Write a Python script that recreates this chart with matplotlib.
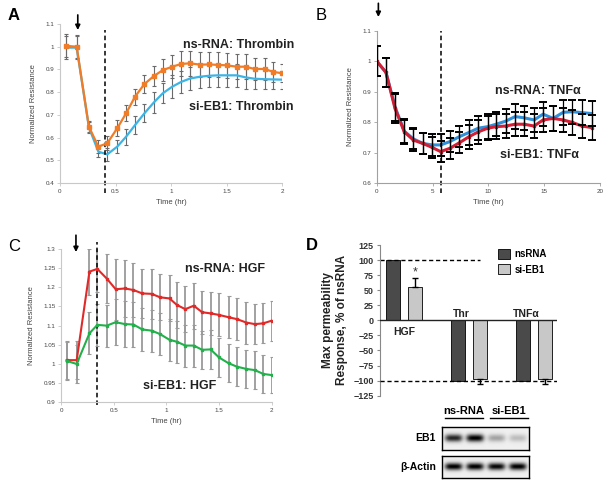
import numpy as np
import matplotlib.pyplot as plt
from matplotlib.patches import Patch

plt.rcParams['font.family'] = ['Liberation Sans', 'DejaVu Sans']

W, H = 613, 486

# ---- panel A: thrombin ----
a_time = [0.05, 0.15, 0.26, 0.345, 0.425, 0.515, 0.595, 0.675, 0.76, 0.845, 0.925, 1.01,
          1.09, 1.17, 1.26, 1.34, 1.42, 1.5, 1.59, 1.67, 1.75, 1.84, 1.92, 2.0]
a_ns = [1.004, 1.0, 0.648, 0.56, 0.575, 0.641, 0.707, 0.78, 0.836, 0.871, 0.897, 0.912,
        0.924, 0.927, 0.921, 0.922, 0.92, 0.918, 0.912, 0.912, 0.902, 0.902, 0.889, 0.883]
a_ns_err = [0.05, 0.05, 0.025, 0.03, 0.03, 0.035, 0.035, 0.035, 0.04, 0.045, 0.05, 0.05,
            0.055, 0.055, 0.055, 0.055, 0.055, 0.055, 0.055, 0.055, 0.05, 0.05, 0.045, 0.04]
a_si = [0.996, 0.996, 0.645, 0.538, 0.526, 0.56, 0.604, 0.655, 0.707, 0.755, 0.795, 0.824,
        0.845, 0.86, 0.868, 0.872, 0.874, 0.874, 0.874, 0.865, 0.859, 0.857, 0.856, 0.855]
a_si_err = [0.05, 0.05, 0.025, 0.025, 0.03, 0.03, 0.035, 0.04, 0.04, 0.045, 0.045, 0.05,
            0.05, 0.05, 0.05, 0.05, 0.05, 0.05, 0.05, 0.05, 0.045, 0.045, 0.04, 0.04]

# ---- panel B: TNFa ----
b_time = [0, 0.83, 1.64, 2.47, 3.28, 4.12, 4.95, 5.73, 6.56, 7.4, 8.27, 9.1,
          9.95, 10.7, 11.55, 12.4, 13.2, 14.1, 14.9, 15.8, 16.7, 17.5, 18.4, 19.25]
b_ns = [1.0, 0.963, 0.85, 0.77, 0.745, 0.73, 0.725, 0.725, 0.736, 0.752, 0.766, 0.78,
        0.785, 0.793, 0.803, 0.818, 0.814, 0.807, 0.826, 0.812, 0.832, 0.834, 0.831, 0.828]
b_si = [1.0, 0.963, 0.845, 0.768, 0.741, 0.73, 0.717, 0.703, 0.714, 0.732, 0.752, 0.768,
        0.78, 0.785, 0.787, 0.793, 0.793, 0.787, 0.807, 0.812, 0.807, 0.799, 0.787, 0.782]
b_err = [0.05, 0.047, 0.047, 0.04, 0.035, 0.035, 0.035, 0.035, 0.035, 0.035, 0.04, 0.04,
         0.04, 0.04, 0.04, 0.04, 0.04, 0.04, 0.04, 0.04, 0.04, 0.04, 0.04, 0.04]

# ---- panel C: HGF ----
c_time = [0.054, 0.149, 0.27, 0.345, 0.434, 0.519, 0.607, 0.687, 0.772, 0.86, 0.94, 1.03,
          1.1, 1.18, 1.26, 1.34, 1.42, 1.5, 1.59, 1.67, 1.76, 1.84, 1.92, 2.0]
c_ns = [1.01, 1.01, 1.241, 1.248, 1.223, 1.195, 1.197, 1.193, 1.184, 1.183, 1.174, 1.171,
        1.154, 1.143, 1.152, 1.135, 1.132, 1.128, 1.122, 1.117, 1.108, 1.104, 1.106, 1.113]
c_ns_err = [0.05, 0.05, 0.06, 0.06, 0.065, 0.08, 0.075, 0.07, 0.065, 0.065, 0.06, 0.06,
            0.06, 0.06, 0.06, 0.056, 0.056, 0.056, 0.055, 0.055, 0.055, 0.052, 0.052, 0.052]
c_si = [1.008, 1.0, 1.08, 1.102, 1.1, 1.109, 1.104, 1.103, 1.09, 1.087, 1.078, 1.063,
        1.058, 1.048, 1.048, 1.037, 1.038, 1.017, 1.002, 0.993, 0.987, 0.984, 0.974, 0.971]
c_si_err = [0.05, 0.05, 0.055, 0.055, 0.055, 0.06, 0.06, 0.06, 0.055, 0.055, 0.055, 0.055,
            0.055, 0.055, 0.055, 0.05, 0.05, 0.05, 0.05, 0.05, 0.05, 0.05, 0.05, 0.047]

# ---- panel D: max permeability response ----
d_groups = ['HGF', 'Thr', 'TNFα']
d_ns = [100, -100, -100]
d_si = [55, -98, -97]
d_si_err_low = [0, 7, 8]
d_si_err_up = [15, 0, 0]

# western blot band intensities (lanes: ns-RNA x2, si-EB1 x2)
blot_eb1 = [0.8, 0.95, 0.3, 0.2]
blot_actin = [0.95, 0.95, 0.92, 0.95]


def px_box(x0, y0, x1, y1):
    return [x0 / W, 1 - y1 / H, (x1 - x0) / W, (y1 - y0) / H]


def ftext(x, y, s, **kw):
    fig.text(x / W, 1 - y / H, s, **kw)


def style_trace(ax, xlim, xticks, ylim, yticks, spine_col):
    ax.set_xlim(xlim)
    ax.set_ylim(ylim)
    ax.set_xticks(xticks)
    ax.set_xticklabels([f'{v:g}' for v in xticks])
    ax.set_yticks(yticks)
    ax.set_yticklabels([f'{v:g}' for v in yticks])
    for s in ['top', 'right']:
        ax.spines[s].set_visible(False)
    for s in ['left', 'bottom']:
        ax.spines[s].set_color(spine_col)
        ax.spines[s].set_linewidth(0.8)
    ax.tick_params(labelsize=4.5, length=2, width=0.6, color=spine_col,
                   labelcolor='#444444', pad=2)
    ax.set_xlabel('Time (hr)', fontsize=5.5, color='#444444', labelpad=4)
    ax.set_ylabel('Normalized Resistance', fontsize=5.5, color='#444444', labelpad=6)


def marker_line(ax, xpos, tip, tail):
    ax.annotate('', xy=(xpos, tip), xytext=(xpos, tail),
                xycoords=('data', 'axes fraction'), textcoords=('data', 'axes fraction'),
                arrowprops=dict(arrowstyle='-|>', color='black', lw=1.2,
                                mutation_scale=7, shrinkA=0, shrinkB=0),
                annotation_clip=False)


fig = plt.figure(figsize=(W / 100, H / 100), dpi=100)

# ---- A ----
axA = fig.add_axes(px_box(60, 24, 282.3, 183))
axA.errorbar(a_time, a_ns, yerr=a_ns_err, fmt='none', ecolor='#6a6a6a', elinewidth=0.8,
             capsize=1.5, capthick=0.8, zorder=1)
axA.errorbar(a_time, a_si, yerr=a_si_err, fmt='none', ecolor='#6a6a6a', elinewidth=0.8,
             capsize=1.5, capthick=0.8, zorder=1)
axA.plot(a_time, a_ns, color='#f07c28', lw=1.6, marker='s', ms=2.2, zorder=3)
axA.plot(a_time, a_si, color='#3cb4e6', lw=1.6, zorder=2)
style_trace(axA, (0, 2), [0, 0.5, 1, 1.5, 2], (0.4, 1.1),
            [0.4, 0.5, 0.6, 0.7, 0.8, 0.9, 1.0, 1.1], '#c8c8c8')
axA.axvline(0.405, ymin=-0.063, ymax=0.962, color='black', ls='--', lw=1.1,
            dashes=(3, 2), clip_on=False)
marker_line(axA, 0.16, 0.962, 1.057)
ftext(239, 45, 'ns-RNA: Thrombin', fontsize=9, fontweight='bold', color='#222222',
      ha='center', va='center')
ftext(241, 107, 'si-EB1: Thrombin', fontsize=9, fontweight='bold', color='#222222',
      ha='center', va='center')

# ---- B ----
axB = fig.add_axes(px_box(376.7, 30.7, 600, 183))
axB.plot(b_time, b_ns, color='#2f8fd8', lw=2.2, zorder=2)
axB.plot(b_time, b_si, color='#d21f35', lw=2.2, marker='s', ms=1.8, zorder=3)
axB.errorbar(b_time, b_ns, yerr=b_err, fmt='none', ecolor='black', elinewidth=0.9,
             capsize=2.8, capthick=1.4, zorder=4)
axB.errorbar(b_time, b_si, yerr=b_err, fmt='none', ecolor='black', elinewidth=0.9,
             capsize=2.8, capthick=1.4, zorder=4)
style_trace(axB, (0, 20), [0, 5, 10, 15, 20], (0.6, 1.1),
            [0.6, 0.7, 0.8, 0.9, 1.0, 1.1], '#a0a0a0')
axB.axvline(5.73, ymin=-0.066, ymax=1.0, color='black', ls='--', lw=1.1,
            dashes=(3, 2), clip_on=False)
marker_line(axB, 0.15, 1.09, 1.18)
ftext(538, 91, 'ns-RNA: TNFα', fontsize=9, fontweight='bold', color='#222222',
      ha='center', va='center')
ftext(540, 155, 'si-EB1: TNFα', fontsize=9, fontweight='bold', color='#222222',
      ha='center', va='center')

# ---- C ----
axC = fig.add_axes(px_box(61, 249, 271.7, 402.3))
axC.errorbar(c_time, c_ns, yerr=c_ns_err, fmt='none', ecolor='#9a9a9a', elinewidth=1.3,
             capsize=1.6, capthick=0.8, zorder=1)
axC.errorbar(c_time, c_si, yerr=c_si_err, fmt='none', ecolor='#9a9a9a', elinewidth=1.3,
             capsize=1.6, capthick=0.8, zorder=1)
axC.plot(c_time, c_ns, color='#e02a2a', lw=1.5, marker='s', ms=2, zorder=3)
axC.plot(c_time, c_si, color='#22b04b', lw=1.5, marker='s', ms=2, zorder=3)
style_trace(axC, (0, 2), [0, 0.5, 1, 1.5, 2], (0.9, 1.3),
            [0.9, 0.95, 1.0, 1.05, 1.1, 1.15, 1.2, 1.25, 1.3], '#c8c8c8')
axC.axvline(0.339, ymin=-0.018, ymax=1.048, color='black', ls='--', lw=1.1,
            dashes=(3, 2), clip_on=False)
marker_line(axC, 0.142, 0.98, 1.09)
ftext(225, 269, 'ns-RNA: HGF', fontsize=9, fontweight='bold', color='#222222',
      ha='center', va='center')
ftext(180, 386, 'si-EB1: HGF', fontsize=9, fontweight='bold', color='#222222',
      ha='center', va='center')

# ---- D ----
axD = fig.add_axes(px_box(380, 245, 556.7, 395.7))
x = np.arange(len(d_groups))
dark, light = '#4a4a4a', '#c8c8c8'
axD.bar(x - 0.167, d_ns, width=0.215, color=dark, edgecolor='black', lw=0.6, zorder=2)
axD.bar(x + 0.167, d_si, width=0.215, color=light, edgecolor='black', lw=0.6, zorder=2,
        yerr=[d_si_err_low, d_si_err_up],
        error_kw=dict(ecolor='black', elinewidth=1, capsize=2.5, capthick=1))
axD.set_xlim(-0.37, 2.35)
axD.set_ylim(-125, 125)
axD.set_yticks(np.arange(-125, 126, 25))
axD.set_xticks([])
for s in ['top', 'right', 'bottom']:
    axD.spines[s].set_visible(False)
axD.spines['left'].set_color('#888888')
axD.tick_params(axis='y', labelsize=6.5, length=2.5, color='#888888', labelcolor='#333333',
                pad=2)
for lab in axD.get_yticklabels():
    lab.set_fontweight('bold')
axD.axhline(0, color='#222222', lw=1, zorder=3)
axD.axhline(100, xmin=0, xmax=0.566, color='black', ls='--', lw=1, dashes=(3, 2))
axD.axhline(-100, xmin=0, xmax=1, color='black', ls='--', lw=1, dashes=(3, 2), zorder=4)
axD.text(0.167, d_si[0] + d_si_err_up[0] + 10, '*', ha='center', va='center',
         fontsize=9, color='#333333')
axD.text(0, -19, d_groups[0], ha='center', va='center', fontsize=7.5, fontweight='bold',
         color='#222222')
for i in [1, 2]:
    axD.text(i - 0.12, 11, d_groups[i], ha='center', va='center', fontsize=7.5,
             fontweight='bold', color='#222222')
axD.set_ylabel('Max permeability\nResponse, % of nsRNA', fontsize=8.5, fontweight='bold',
               color='#222222', labelpad=4, linespacing=1.2)
axD.legend(handles=[Patch(facecolor=dark, edgecolor='black', lw=0.6, label='nsRNA'),
                    Patch(facecolor=light, edgecolor='black', lw=0.6, label='si-EB1')],
           loc='upper left', bbox_to_anchor=(0.62, 1.03), frameon=False,
           prop=dict(size=7, weight='bold'), handlelength=1.2, handleheight=1.2,
           handletextpad=0.5, labelspacing=0.5)

# ---- western blot ----
def blot(ax, levels):
    cols = np.linspace(0, 1, 120)
    rows = np.linspace(0, 1, 30)
    xx, yy = np.meshgrid(cols, rows)
    img = np.full(xx.shape, 0.06)
    for i, lv in enumerate(levels):
        c = 0.13 + 0.245 * i
        img += lv * np.exp(-((xx - c) / 0.1) ** 4) * np.exp(-((yy - 0.5) / 0.16) ** 2)
    ax.imshow(np.clip(img, 0, 1), cmap='gray_r', vmin=0, vmax=1, aspect='auto',
              extent=[0, 1, 0, 1])
    ax.set_xticks([])
    ax.set_yticks([])
    for s in ax.spines.values():
        s.set_linewidth(1)


axE = fig.add_axes(px_box(441.7, 426.7, 529.3, 450))
blot(axE, blot_eb1)
axF = fig.add_axes(px_box(441.7, 456, 529.3, 478))
blot(axF, blot_actin)
ftext(436, 438, 'EB1', fontsize=7.5, fontweight='bold', ha='right', va='center')
ftext(436, 467, 'β-Actin', fontsize=7.5, fontweight='bold', ha='right', va='center')
ftext(464, 411, 'ns-RNA', fontsize=8, fontweight='bold', ha='center', va='center')
ftext(509, 411, 'si-EB1', fontsize=8, fontweight='bold', ha='center', va='center')
for xa, xb in [(0.038, 0.468), (0.55, 0.985)]:
    axE.plot([xa, xb], [1.36, 1.36], color='black', lw=1, transform=axE.transAxes,
             clip_on=False)

# ---- panel letters ----
ftext(14, 16, 'A', fontsize=12, fontweight='bold', ha='center', va='center')
ftext(321, 16, 'B', fontsize=12, ha='center', va='center')
ftext(14, 246, 'C', fontsize=12, ha='center', va='center')
ftext(312, 245, 'D', fontsize=12, fontweight='bold', ha='center', va='center')

fig.savefig('out.png', dpi=100)
